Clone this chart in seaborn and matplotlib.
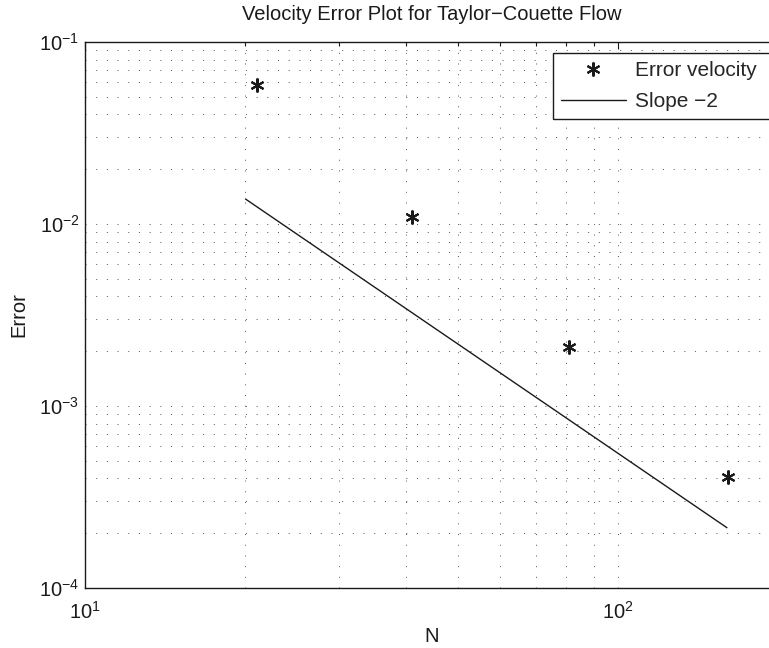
import numpy as np
import pandas as pd
import matplotlib
matplotlib.use('Agg')
import matplotlib.pyplot as plt
import seaborn as sns
from matplotlib.ticker import LogLocator, LogFormatterMathtext, NullFormatter

# ---- data ----
N_points = [21, 41, 81, 161]
error_velocity = [0.0581, 0.01096, 0.00212, 0.000409]
N_slope = [20, 40, 80, 160]
slope_m2 = [0.01372, 0.00343, 0.000858, 0.0002144]

title_text = "Velocity Error Plot for Taylor\u2212Couette Flow"
xlabel_text = "N"
ylabel_text = "Error"
label_err = "Error velocity  "
label_slope = "Slope \u22122"

sns.set_theme(style='white')
plt.rcParams['font.family'] = ['Liberation Sans', 'DejaVu Sans']
plt.rcParams['mathtext.fontset'] = 'custom'
plt.rcParams['mathtext.rm'] = 'Liberation Sans'
plt.rcParams['mathtext.it'] = 'Liberation Sans:italic'
plt.rcParams['mathtext.bf'] = 'Liberation Sans:bold'
plt.rcParams['axes.unicode_minus'] = True

FS = 14.5
W, H = 769, 648
fig = plt.figure(figsize=(W / 100, H / 100), dpi=100)
ax = fig.add_axes([85 / W, 60 / H, 693.6 / W, 546 / H])

df_err = pd.DataFrame({'N': N_points, 'Error': error_velocity})
df_slope = pd.DataFrame({'N': N_slope, 'Error': slope_m2})

sns.lineplot(data=df_err, x='N', y='Error', ax=ax, marker=(6, 2, 0), linestyle='',
             color='k', markersize=10, markeredgewidth=1.5, markeredgecolor='k',
             label=label_err)
sns.lineplot(data=df_slope, x='N', y='Error', ax=ax, color='k', linewidth=1.0,
             label=label_slope)

ax.set_xscale('log')
ax.set_yscale('log')
ax.set_xlim(10, 200)
ax.set_ylim(1e-4, 1e-1)

for axis in (ax.xaxis, ax.yaxis):
    axis.set_major_locator(LogLocator(base=10, numticks=10))
    axis.set_minor_locator(LogLocator(base=10, subs=np.arange(2, 10), numticks=10))
    axis.set_major_formatter(LogFormatterMathtext())
    axis.set_minor_formatter(NullFormatter())

ax.grid(True, which='both', color='#555555', linestyle=(0, (1, 10)), linewidth=0.7)
ax.set_axisbelow(True)

ax.tick_params(which='both', direction='in', top=True, right=True, color='k',
               labelsize=FS, labelcolor='k')
ax.tick_params(which='major', length=5, width=0.8)
ax.tick_params(which='minor', length=3, width=0.8)
ax.tick_params(axis='x', pad=9)
ax.tick_params(axis='y', pad=4)

for s in ax.spines.values():
    s.set_color('k')
    s.set_linewidth(1.0)

ax.set_title(title_text, fontsize=FS, color='k', pad=16)
ax.set_xlabel(xlabel_text, fontsize=FS, color='k', labelpad=3)
ax.set_ylabel(ylabel_text, fontsize=FS, color='k', labelpad=8)

leg = ax.legend(loc='upper left', bbox_to_anchor=(553 / W, 1 - 53 / H),
                bbox_transform=fig.transFigure, borderaxespad=0, frameon=True,
                fancybox=False, edgecolor='k', fontsize=15, handlelength=3.1,
                handletextpad=0.45, labelspacing=0.6, borderpad=0.38, framealpha=1)
leg.get_frame().set_linewidth(1.0)

fig.savefig('out.png', dpi=100)
